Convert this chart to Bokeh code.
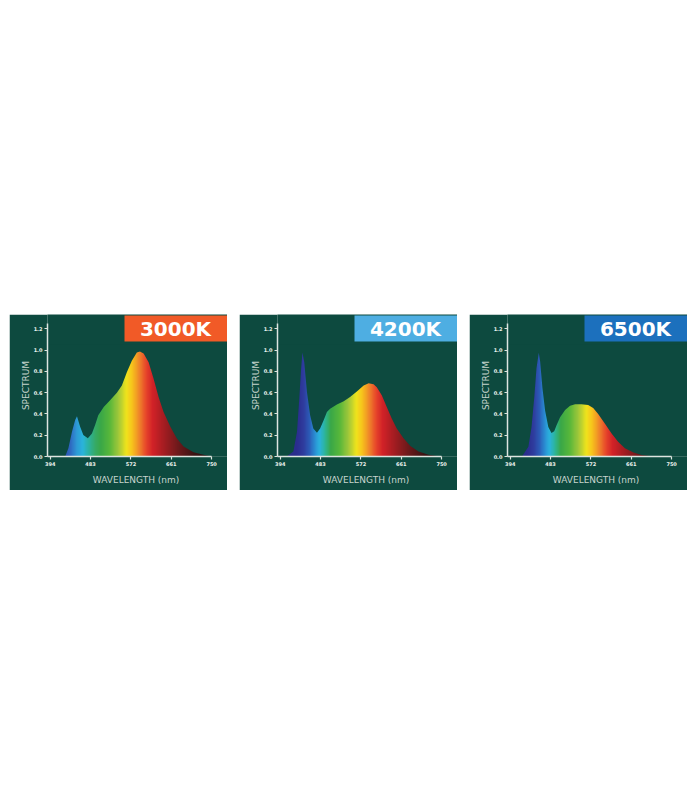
import numpy as np
from bokeh.plotting import figure
from bokeh.models import FixedTicker, Label, BoxAnnotation, Spacer, PrintfTickFormatter
from bokeh.layouts import row, column
from bokeh.embed import file_html
from bokeh.resources import INLINE

# ---------------- data ----------------
x_ticks = [394, 483, 572, 661, 750]
y_ticks = [0.0, 0.2, 0.4, 0.6, 0.8, 1.0, 1.2]

titles = ["3000K", "4200K", "6500K"]
badge_colors = ["#f15a27", "#4eaee2", "#1c70bd"]

wl_3000 = [427, 434, 442, 449, 453, 460, 467, 477, 486, 493, 500, 512, 526, 541, 552,
           563, 574, 585, 592, 600, 611, 622, 633, 644, 659, 673, 688, 710, 732, 750]
sp_3000 = [0.0, 0.078, 0.233, 0.342, 0.379, 0.280, 0.202, 0.171, 0.217, 0.295, 0.388, 0.466,
           0.528, 0.599, 0.668, 0.792, 0.901, 0.978, 0.988, 0.969, 0.885, 0.730, 0.559, 0.419,
           0.280, 0.171, 0.093, 0.040, 0.016, 0.0]

wl_4200 = [394, 408, 423, 431, 436, 440, 443, 447, 453, 460, 467, 475, 482, 490, 497, 504, 519,
           534, 548, 563, 578, 589, 600, 607, 618, 629, 640, 651, 666, 681, 699, 721, 747]
sp_4200 = [0.0, 0.0, 0.047, 0.233, 0.543, 0.823, 0.978, 0.885, 0.606, 0.388, 0.264, 0.224, 0.264,
           0.342, 0.419, 0.450, 0.488, 0.519, 0.559, 0.612, 0.668, 0.689, 0.680, 0.652, 0.575,
           0.466, 0.357, 0.264, 0.171, 0.099, 0.047, 0.016, 0.0]

wl_6500 = [420, 434, 441, 447, 452, 457, 460, 465, 471, 478, 485, 491, 496, 504, 515, 526, 537,
           551, 566, 577, 588, 603, 618, 632, 647, 666, 684, 706, 728]
sp_6500 = [0.0, 0.092, 0.277, 0.554, 0.831, 0.975, 0.892, 0.646, 0.431, 0.277, 0.222, 0.237,
           0.292, 0.369, 0.437, 0.477, 0.492, 0.492, 0.483, 0.455, 0.400, 0.308, 0.215, 0.138,
           0.077, 0.037, 0.015, 0.003, 0.0]

series = [(wl_3000, sp_3000), (wl_4200, sp_4200), (wl_6500, sp_6500)]

# rainbow colour stops used for the fill (wavelength -> colour); the blue end differs per panel
warm_nm = [505, 525, 545, 562, 575, 590, 605, 620, 645, 675, 710, 752]
warm_col = ["#3aa848", "#58b83b", "#a4c93a", "#f1e41c", "#f8c21d", "#f0862a", "#e8472b",
            "#d22228", "#a51d22", "#701a1c", "#3d1414", "#241010"]
blue_nm = [
    [388, 420, 440, 452, 465, 478, 492],
    [388, 430, 445, 458, 470, 480, 492],
    [388, 430, 445, 458, 470, 480, 492],
]
blue_col = [
    ["#262a7a", "#2c44a8", "#2f6fc4", "#2e9ad6", "#2ab5dc", "#2cb3a2", "#36ab6a"],
    ["#262a7a", "#2b2e8f", "#2f3c9e", "#2c5cb8", "#2a8fd3", "#2bb3df", "#2db59c"],
    ["#262a7a", "#2b2e8f", "#2f3c9e", "#2c5cb8", "#2a8fd3", "#2bb3df", "#2db59c"],
]

BG = "#0d4a3f"
X0, XE, X1 = 388, 752, 785      # axis start, axis/spectrum end, frame end (room for the badge)
YA, Y1 = 1.25, 1.335            # axis top, frame top
W, H = 218, 176


def rainbow_image(stop_nm, stop_col):
    cols = np.arange(X0, XE + 1, 1.0)
    rgb = np.array([[int(c[i:i + 2], 16) for i in (1, 3, 5)] for c in stop_col], dtype=float)
    img = np.empty((1, len(cols)), dtype=np.uint32)
    view = img.view(dtype=np.uint8).reshape((1, len(cols), 4))
    for k in range(3):
        view[0, :, k] = np.interp(cols, stop_nm, rgb[:, k]).astype(np.uint8)
    view[0, :, 3] = 255
    return img


def make_panel(idx, title, color, wl, sp):
    p = figure(width=W, height=H, x_range=(X0, X1), y_range=(0, Y1),
               output_backend="svg", toolbar_location=None,
               background_fill_color=BG, border_fill_color=BG,
               min_border_left=38, min_border_right=0, min_border_top=0, min_border_bottom=34)
    p.outline_line_color = None
    p.grid.visible = False

    # rainbow fill, then mask everything above the spectrum curve
    img = rainbow_image(blue_nm[idx] + warm_nm, blue_col[idx] + warm_col)
    p.image_rgba(image=[img], x=X0, y=0, dw=XE - X0, dh=1.0)
    mx = [X0 - 2] + list(wl) + [X1, X1, X0 - 2]
    my = [0.0] + list(sp) + [0.0, 1.05, 1.05]
    p.patch(mx, my, fill_color=BG, line_color=None)

    for ax in (p.xaxis[0], p.yaxis[0]):
        ax.axis_line_color = "#dde5e0"
        ax.axis_line_width = 1.5
        ax.major_tick_line_color = "#dde5e0"
        ax.major_tick_line_width = 1.2
        ax.major_tick_in = 0
        ax.major_tick_out = 3
        ax.minor_tick_line_color = None
        ax.major_label_text_color = "#eef3ef"
        ax.major_label_text_font = "DejaVu Sans"
        ax.major_label_text_font_style = "bold"
        ax.major_label_text_font_size = "5px"
        ax.axis_label_text_color = "#c8d5ce"
        ax.axis_label_text_font = "DejaVu Sans"
        ax.axis_label_text_font_style = "normal"
        ax.axis_label_text_font_size = "9px"

    p.xaxis.ticker = FixedTicker(ticks=x_ticks)
    p.xaxis.bounds = (X0, 750)
    p.xaxis.major_label_standoff = 2
    p.xaxis.axis_label = "WAVELENGTH  (nm)"
    p.xaxis.axis_label_standoff = 6

    p.yaxis.ticker = FixedTicker(ticks=y_ticks)
    p.yaxis.bounds = (0, YA)
    p.yaxis.formatter = PrintfTickFormatter(format="%.1f")
    p.yaxis.major_label_standoff = 2
    p.yaxis.axis_label = "SPECTRUM"
    p.yaxis.axis_label_standoff = 0

    badge = BoxAnnotation(left=W - 103, right=W, top=1, bottom=27,
                          left_units="canvas", right_units="canvas",
                          top_units="canvas", bottom_units="canvas",
                          fill_color=color, fill_alpha=1.0, line_color=None)
    p.add_layout(badge)
    lab = Label(x=W - 52, y=14, x_units="canvas", y_units="canvas", text=title,
                text_align="center", text_baseline="middle", text_color="white",
                text_font="DejaVu Sans", text_font_style="bold", text_font_size="20px")
    p.add_layout(lab)
    return p


panels = [make_panel(i, t, c, wl, sp)
          for i, (t, c, (wl, sp)) in enumerate(zip(titles, badge_colors, series))]
layout = column(Spacer(height=314), row(Spacer(width=9), row(*panels, spacing=12)))

open("out.html", "w").write(file_html(layout, INLINE))
